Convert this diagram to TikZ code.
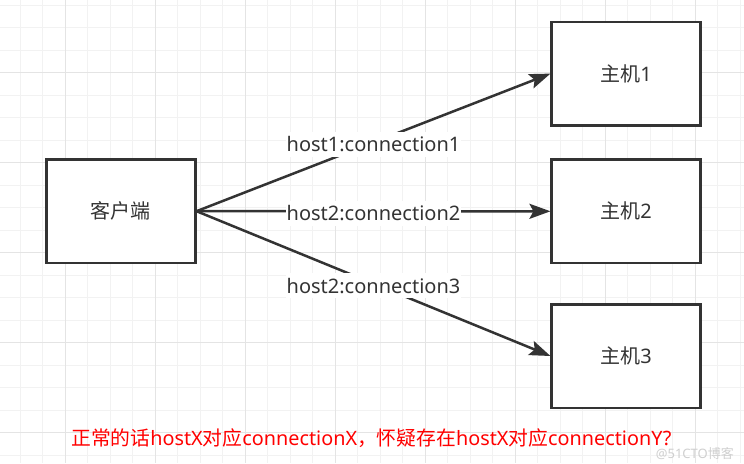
\documentclass[tikz,border=0pt]{standalone}
\usepackage{fontspec}
\setmainfont{Noto Sans}
\newfontfamily\cjk{Noto Sans CJK SC}
\usetikzlibrary{arrows.meta}

\definecolor{inkgray}{HTML}{333333}
\definecolor{gridminor}{HTML}{F2F2F2}
\definecolor{gridmajor}{HTML}{E4E4E4}
\definecolor{markgray}{HTML}{CFCFCF}

\begin{document}
\begin{tikzpicture}[x=1pt,y=-1pt,
   hostbox/.style={draw=inkgray,line width=2.5pt,fill=white,minimum width=149pt,minimum height=103.5pt,inner sep=0pt,text=inkgray,font=\fontsize{20}{24}\selectfont},
   link/.style={draw=inkgray,line width=2.5pt,-{Stealth[length=21pt,width=15pt,inset=4pt]}},
   linktext/.style={fill=white,inner xsep=1pt,inner ysep=5pt,text=inkgray,yshift=-2pt,font=\fontsize{20}{24}\selectfont}]

   \useasboundingbox (0,0) rectangle (744,463);
   \fill[white] (0,0) rectangle (744,463);

   \foreach \k in {-2,...,30}
      \draw[gridminor,line width=1pt] ({65+22.5*\k},0) -- ({65+22.5*\k},463);
   \foreach \k in {-3,...,17}
      \draw[gridminor,line width=1pt] (0,{72.7+22.5*\k}) -- (744,{72.7+22.5*\k});
   \foreach \k in {0,...,7}
      \draw[gridmajor,line width=1pt] ({65+90*\k},0) -- ({65+90*\k},463);
   \foreach \k in {0,...,4}
      \draw[gridmajor,line width=1pt] (0,{72.7+90*\k}) -- (744,{72.7+90*\k});

   \node[hostbox] (client) at (120.8,211.2) {{\cjk 客户端}};
   \node[hostbox] (host1) at (626.2,73.6) {{\cjk 主机}1};
   \node[hostbox] (host2) at (626.2,211.3) {{\cjk 主机}2};
   \node[hostbox] (host3) at (626.2,356) {{\cjk 主机}3};

   \draw[link] (client.east) -- node[linktext] (lab1) {host1:connection1} (host1.west);
   \draw[link] (client.east) -- node[linktext] (lab2) {host2:connection2} (host2.west);
   \draw[link] (client.east) -- node[linktext] (lab3) {host2:connection3} (host3.west);

   \node[anchor=base east,inner sep=0pt,text=markgray,font=\fontsize{13}{16}\selectfont] (mark) at (734,458) {@51CTO{\cjk 博客}};
   \node[anchor=base west,inner sep=0pt,text=red,font=\fontsize{19.8}{24}\selectfont] (note) at (71,445)
      {{\cjk 正常的话}hostX{\cjk 对应}connectionX{\cjk ，怀疑存在}hostX{\cjk 对应}connectionY?};

\end{tikzpicture}
\end{document}
